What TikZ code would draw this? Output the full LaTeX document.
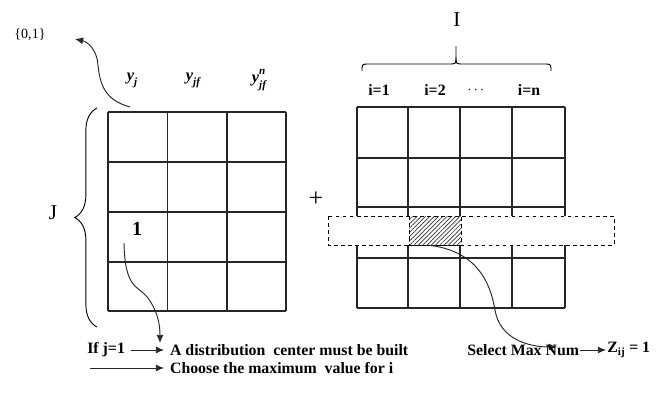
\documentclass[tikz,border=0pt]{standalone}
\usepackage{amsmath}
\usepackage{fontspec}
\setmainfont{Liberation Serif}
\usetikzlibrary{arrows.meta,patterns.meta,decorations.pathreplacing}

\tikzset{
  lbl/.style={font=\bfseries\fontsize{13.5}{15}\selectfont, inner sep=1pt},
  txt/.style={font=\bfseries\fontsize{13.5}{15}\selectfont, inner sep=1pt, inner xsep=5pt},
  ylbl/.style={font=\bfseries\itshape\fontsize{14}{16}\selectfont, inner sep=1pt},
  big/.style={font=\fontsize{18}{20}\selectfont, inner sep=1pt},
  arr/.style={-{Latex[length=7pt,width=6pt]}, line width=0.8pt, black!85},
  cell/.style={line width=0.9pt, black!85},
}
\newcommand{\subsup}[2]{\rlap{\raisebox{0.5em}{\fontsize{9.5}{10}\selectfont #1}}\raisebox{-0.35em}{\fontsize{9.5}{10}\selectfont #2}}

\begin{document}
\begin{tikzpicture}[x=0.3mm,y=-0.3mm]
\useasboundingbox (0,0) rectangle (662,405);
% left table
\foreach \x in {108,167.5,227,286} \draw[cell] (\x,112) -- (\x,311);
\foreach \y in {112,162,212,262,311} \draw[cell] (108,\y) -- (286,\y);
\draw[decorate,decoration={brace,amplitude=19pt},line width=0.8pt] (97,327) -- (97,108);
\node[big] (J) at (53,213) {J};
\node[big,font=\bfseries\fontsize{17}{19}\selectfont] (one) at (137,229) {1};
\node[ylbl] (yj) at (132,80) {y\subsup{}{j}};
\node[ylbl] (yjf) at (193,80) {y\subsup{}{jf}};
\node[ylbl] (yjfn) at (259,80) {y\subsup{n}{jf}};
\node[font=\fontsize{12}{14}\selectfont] (set01) at (30,35) {\{0,1\}};
\coordinate (top) at (130,107);
\coordinate (tip01) at (75,39);
\draw[arr] (top) .. controls (105,100) and (100,85) .. (98,65) .. controls (97,50) and (88,42) .. (tip01);
\coordinate (dwn) at (160,343);
\draw[arr] (124,243) .. controls (125,290) and (138,285) .. (148,298) .. controls (158,312) and (160,325) .. (dwn);

\node[big,font=\fontsize{22}{24}\selectfont] (plus) at (316,199) {+};

% right table
\foreach \x in {357,408,460,512,565} \draw[cell] (\x,107) -- (\x,308);
\foreach \y in {107,158,207,258,308} \draw[cell] (357,\y) -- (565,\y);
\draw[dashed,fill=white,line width=0.8pt] (328,216) rectangle (614,245);
\draw[dashed,pattern={Lines[angle=45,distance=2.6pt,line width=0.6pt]},pattern color=black!80,line width=0.8pt] (409,216) rectangle (461,245);
\coordinate (hat) at (427,245);
\coordinate (sel) at (557,347);
\draw[arr] (hat) .. controls (475,250) and (490,280) .. (495,310) .. controls (500,340) and (530,347) .. (sel);

\draw[line width=0.8pt] (362,71) .. controls (362,64) .. (369,64) -- (449,64) .. controls (456,64) .. (456,57) -- (456,46);
\draw[line width=0.8pt] (551,71) .. controls (551,64) .. (544,64) -- (463,64) .. controls (456,64) .. (456,57);
\node[big] (I) at (457,20) {I};
\node[lbl] (i1) at (379,90) {i=1};
\node[lbl] (i2) at (435,90) {i=2};
\node[lbl,font=\fontsize{12}{14}\selectfont] (idots) at (477,90) {$\cdots$};
\node[lbl] (in) at (529,90) {i=n};

% bottom notes
\node[txt,anchor=east] (ifj) at (131,350) {If j=1};
\node[txt,anchor=west] (built) at (164,350) {A distribution\ \ center must be built};
\draw[arr] (ifj) -- (built);
\coordinate (c0) at (90,368);
\node[txt,anchor=west] (choose) at (164,368) {Choose the maximum\ \ value for i};
\draw[arr] (c0) -- (choose);
\node[lbl,anchor=west] (select) at (466,350) {Select Max Num};
\node[lbl,anchor=west] (zij) at (606,350) {Z\textsubscript{ij} = 1};
\draw[arr] (select) -- (zij);
\end{tikzpicture}
\end{document}
